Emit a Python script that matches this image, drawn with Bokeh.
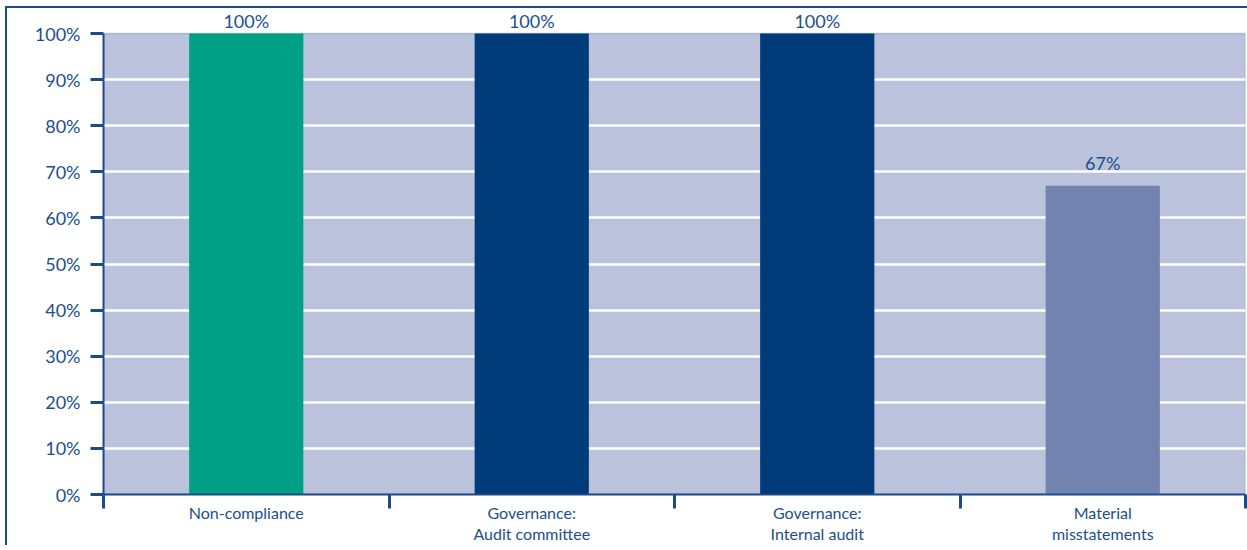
from bokeh.plotting import figure
from bokeh.models import (ColumnDataSource, FactorRange, Range1d, LinearAxis, BoxAnnotation,
                          CategoricalAxis, FixedTicker, LabelSet, CustomJSTickFormatter)
from bokeh.core.properties import value
from bokeh.embed import file_html
from bokeh.resources import INLINE

# Share of findings by area (percent)
categories = ["Non-compliance", "Governance:\nAudit committee",
              "Governance:\nInternal audit", "Material\nmisstatements"]
values = [100, 100, 100, 67]
value_labels = ["100%", "100%", "100%", "67%"]
y_ticks = [0, 10, 20, 30, 40, 50, 60, 70, 80, 90, 100]

bar_colors = ["#00A086", "#003B7A", "#003B7A", "#7283B0"]
ink = "#1D4E8E"
frame_blue = "#1E4A8A"
panel_fill = "#BAC2DC"
font = "Lato"

# labels sit above their bar; full-height bars keep theirs just under the border
label_gap = [6 if v >= 100 else 16 for v in values]

src = ColumnDataSource(dict(cat=categories, val=values, lab=value_labels,
                            color=bar_colors, gap=label_gap))

# the panel spans 0-100 %; the white strip above it holds the value labels
panel_px, headroom_px = 461, 25
y_top = 100 * (panel_px + headroom_px) / panel_px

p = figure(x_range=FactorRange(*categories, range_padding=0),
           y_range=Range1d(0, y_top),
           frame_width=1142, frame_height=panel_px + headroom_px,
           min_border_left=96, min_border_top=0, min_border_right=2,
           min_border_bottom=50,
           x_axis_location=None, y_axis_location="left",
           output_backend="svg", toolbar_location=None,
           background_fill_color="white", border_fill_color="white")
p.styles = {"border-left": f"2px solid {frame_blue}",
            "border-top": f"2px solid {frame_blue}",
            "margin-left": "5px", "margin-top": "6px"}
p.outline_line_color = None

# lavender panel behind the bars, from 0 to 100 %
p.add_layout(BoxAnnotation(bottom=0, top=100, fill_color=panel_fill, fill_alpha=1,
                           line_color="#3C629A", line_width=1.5, level="image"))

p.vbar(x="cat", top="val", width=0.4, color="color", source=src, line_color=None)

# y axis
yax = p.yaxis[0]
yax.ticker = FixedTicker(ticks=y_ticks)
yax.bounds = (0, 100)
yax.formatter = CustomJSTickFormatter(code="return tick + '%';")
yax.axis_line_color = frame_blue
yax.axis_line_width = 2
yax.major_tick_line_color = frame_blue
yax.major_tick_line_width = 3
yax.major_tick_in = 0
yax.major_tick_out = 13
yax.minor_tick_line_color = None
yax.major_label_standoff = 10
yax.major_label_text_font = font
yax.major_label_text_font_size = "18px"
yax.major_label_text_color = ink

p.ygrid.grid_line_color = "white"
p.ygrid.grid_line_width = 2.5
p.ygrid.ticker = FixedTicker(ticks=y_ticks[1:-1])
for g in p.xgrid:
    g.visible = False

# separators between categories: ticks at the factor boundaries
# (synthetic coordinates 0..n on the categorical range), no labels of their own
sep_axis = LinearAxis(ticker=FixedTicker(ticks=list(range(len(categories) + 1))),
                      formatter=CustomJSTickFormatter(code="return '';"))
sep_axis.axis_line_color = frame_blue
sep_axis.axis_line_width = 2
sep_axis.major_tick_line_color = frame_blue
sep_axis.major_tick_line_width = 3
sep_axis.major_tick_in = 0
sep_axis.major_tick_out = 14
sep_axis.minor_tick_line_color = None
sep_axis.major_label_text_color = None
sep_axis.major_label_standoff = 0
p.add_layout(sep_axis, "below")

cat_axis = CategoricalAxis()
cat_axis.axis_line_color = None
cat_axis.major_tick_line_color = None
cat_axis.minor_tick_line_color = None
cat_axis.major_label_standoff = -12
cat_axis.major_label_text_font = font
cat_axis.major_label_text_font_size = "16px"
cat_axis.major_label_text_line_height = 1.12
cat_axis.major_label_text_color = ink
p.add_layout(cat_axis, "below")

labels = LabelSet(x="cat", y="val", text="lab", source=src, y_offset="gap",
                  text_align="center", text_baseline="alphabetic",
                  text_font=value(font), text_font_size=value("18px"), text_color=ink)
p.add_layout(labels)

open("out.html", "w").write(file_html(p, INLINE))
